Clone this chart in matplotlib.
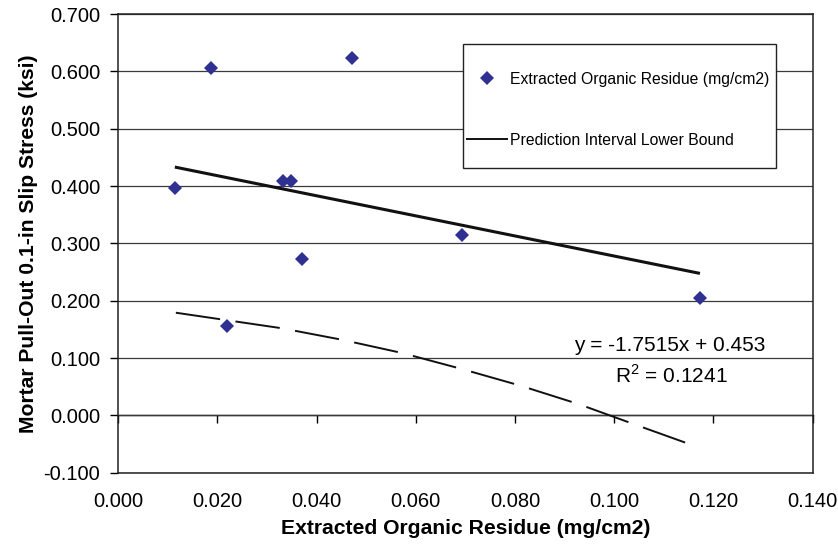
import matplotlib
matplotlib.use("Agg")
import matplotlib.pyplot as plt
from matplotlib.patches import Rectangle

plt.rcParams['font.family'] = ['Liberation Sans', 'DejaVu Sans']
plt.rcParams['axes.unicode_minus'] = False
plt.rcParams['mathtext.fontset'] = 'custom'
plt.rcParams['mathtext.rm'] = 'Liberation Sans'

# residue (mg/cm2) vs. slip stress (ksi)
residue = [0.0114, 0.0186, 0.0219, 0.0332, 0.0348, 0.0370, 0.0471, 0.0694, 0.1173]
stress = [0.397, 0.605, 0.155, 0.409, 0.409, 0.272, 0.624, 0.314, 0.204]

# linear fit reported on the chart
slope = -1.7515
intercept = 0.453
r2 = 0.1241

# prediction interval lower bound
pi_x = [0.0116, 0.0329, 0.0450, 0.0571, 0.0692, 0.0810, 0.0927, 0.1045, 0.1161]
pi_y = [0.179, 0.152, 0.132, 0.109, 0.081, 0.052, 0.020, -0.017, -0.053]

x_ticks = [0.0, 0.02, 0.04, 0.06, 0.08, 0.10, 0.12, 0.14]
y_ticks = [-0.1, 0.0, 0.1, 0.2, 0.3, 0.4, 0.5, 0.6, 0.7]

fig = plt.figure(figsize=(8.38, 5.45), dpi=100)
ax = fig.add_axes([0.1412, 0.1327, 0.8284, 0.8416])

for y in y_ticks:
    ax.axhline(y, color='#3a3a3a', lw=0.9, zorder=1)

ax.plot(residue, stress, 'D', color='#2e3192', markersize=7, markeredgewidth=0,
        label='Extracted Organic Residue (mg/cm2)', zorder=4)

fit_x = [min(residue), max(residue)]
fit_y = [slope * v + intercept for v in fit_x]
ax.plot(fit_x, fit_y, color='#111111', lw=2.2, label='Prediction Interval Lower Bound',
        solid_capstyle='butt', zorder=3)
ax.plot(pi_x, pi_y, color='#111111', lw=1.4, linestyle=(0, (23, 8)), zorder=3)

ax.text(0.1112, 0.1215, f'y = {slope}x + {intercept}', ha='center', va='center', fontsize=15)
ax.text(0.1115, 0.069, r'R$^2$' + f' = {r2}', ha='center', va='center', fontsize=15)

ax.set_xlim(0, 0.14)
ax.set_ylim(-0.1, 0.7)
ax.set_xticks(x_ticks)
ax.set_xticklabels([f'{v:.3f}' for v in x_ticks])
ax.set_yticks(y_ticks)
ax.set_yticklabels([f'{v:.3f}' for v in y_ticks])
ax.tick_params(axis='x', length=0, pad=14, labelsize=14.5)
ax.tick_params(axis='y', length=6, width=1, direction='out', pad=7, labelsize=14.5)

# x tick marks sit on the zero line, like Excel
zero_axis = ax.secondary_xaxis(0.1 / 0.8)
zero_axis.set_xticks(x_ticks)
zero_axis.tick_params(axis='x', length=6, width=1, direction='out', labelbottom=False)
zero_axis.spines['bottom'].set_linewidth(1)

for s in ax.spines.values():
    s.set_linewidth(1.1)
    s.set_color('#222222')

ax.set_xlabel('Extracted Organic Residue (mg/cm2)', fontsize=15.2, fontweight='bold', labelpad=6)
ax.set_ylabel('Mortar Pull-Out 0.1-in Slip Stress (ksi)', fontsize=15.2, fontweight='bold', labelpad=4)

# legend box is taller than the entries need, so the frame is drawn separately
ax.add_patch(Rectangle((0.496, 0.664), 0.452, 0.271, transform=ax.transAxes,
                       facecolor='white', edgecolor='#222222', lw=1, zorder=5))
leg = ax.legend(loc='upper left', bbox_to_anchor=(0.5005, 0.874), frameon=False,
                fontsize=11.3, borderpad=0, handlelength=2.67, handletextpad=0.15,
                labelspacing=2.93, borderaxespad=0)
leg.set_zorder(6)
for line in leg.get_lines():
    line.set_linewidth(1.4)

fig.savefig('out.png', dpi=100)
